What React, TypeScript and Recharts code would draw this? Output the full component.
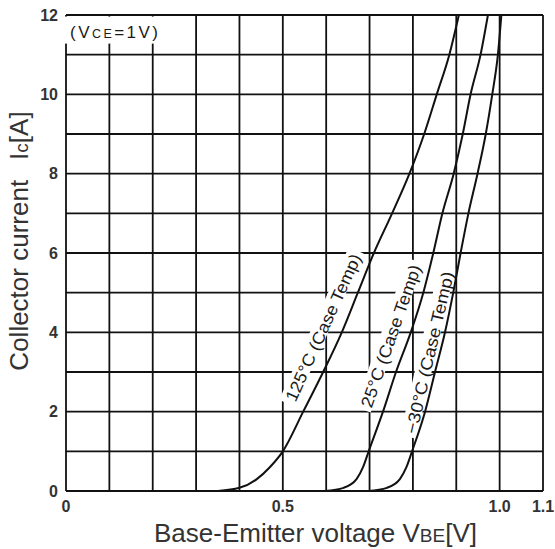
import React from "react";
import {
  LineChart,
  Line,
  XAxis,
  YAxis,
  CartesianGrid,
  ReferenceDot,
} from "recharts";

// Collector current values shared by all three curves [A]
const IC_VALUES = [0, 0.08, 0.3, 0.6, 1, 2, 3, 4, 5, 6, 7, 8, 9, 10, 11, 12];
// Base-emitter voltage [V] read for each temperature
const VBE_125C = [0.35, 0.4, 0.44, 0.47, 0.5, 0.547, 0.593, 0.636, 0.673, 0.71, 0.752, 0.792, 0.826, 0.855, 0.884, 0.906];
const VBE_25C = [0.597, 0.64, 0.67, 0.685, 0.698, 0.731, 0.761, 0.795, 0.824, 0.847, 0.868, 0.894, 0.915, 0.933, 0.956, 0.973];
const VBE_M30C = [0.697, 0.74, 0.77, 0.785, 0.798, 0.828, 0.851, 0.874, 0.893, 0.91, 0.928, 0.949, 0.968, 0.983, 0.996, 1.004];

const X_TICKS = [0, 0.5, 1.0, 1.1];
const X_TICK_LABELS = ["0", "0.5", "1.0", "1.1"];
const Y_TICKS = [0, 2, 4, 6, 8, 10, 12];
const GRID_X = [0, 0.1, 0.2, 0.3, 0.4, 0.5, 0.6, 0.7, 0.8, 0.9, 1.0, 1.1];
const GRID_Y = [0, 1, 2, 3, 4, 5, 6, 7, 8, 9, 10, 11, 12];

const zip = (vs: number[]) => vs.map((v, i) => ({ v, i: IC_VALUES[i] }));
const data125 = zip(VBE_125C);
const data25 = zip(VBE_25C);
const dataM30 = zip(VBE_M30C);

const INK = "#111";
const TEXT = "#1a1a1a";

const curveLabel = (text: string, angle: number, len: number) => (props: any) => {
  const { cx, cy } = props;
  return (
    <g transform={`translate(${cx},${cy}) rotate(${-angle})`}>
      <rect x={-len / 2 - 4} y={-10} width={len + 8} height={16.5} fill="#fff" />
      <text
        x={0}
        y={6}
        textAnchor="middle"
        fontSize={17}
        fill={TEXT}
        textLength={len}
        lengthAdjust="spacingAndGlyphs"
      >
        {text}
      </text>
    </g>
  );
};

const vceLabel = (props: any) => {
  const { cx, cy } = props;
  return (
    <g>
      <rect x={cx - 2} y={cy + 1.6} width={122} height={27} fill="#fff" />
      <text x={cx + 4} y={cy + 23} fontSize={17} fill={TEXT} textLength={88} lengthAdjust="spacing">
        (V<tspan fontSize={12.5}>CE</tspan>=1V)
      </text>
    </g>
  );
};

const XLabel = (props: any) => {
  const vb = props.viewBox || { x: 66, y: 491, width: 477, height: 58 };
  return (
    <text x={vb.x + vb.width / 2 + 11} y={vb.y + 51} textAnchor="middle" fontSize={26} fill="#333">
      Base-Emitter voltage V<tspan fontSize={19}>BE</tspan>[V]
    </text>
  );
};

const YLabel = (props: any) => {
  const vb = props.viewBox || { x: 0, y: 15, width: 66, height: 476 };
  const x = vb.x + 28;
  const y = vb.y + vb.height / 2 - 12;
  return (
    <text x={x} y={y} textAnchor="middle" fontSize={26} fill="#333" transform={`rotate(-90, ${x}, ${y})`}>
      Collector current<tspan dx={20}>I</tspan>
      <tspan fontSize={19}>c</tspan>[A]
    </text>
  );
};

export default function App() {
  return (
    <div
      style={{
        position: "absolute",
        left: 0,
        top: 0,
        width: 555,
        height: 549,
        background: "#fff",
        fontFamily: "'Liberation Sans', Arial, sans-serif",
      }}
    >
      <LineChart width={555} height={549} margin={{ top: 15, right: 12, left: 0, bottom: 0 }}>
        <CartesianGrid
          stroke={INK}
          strokeWidth={1.8}
          horizontalValues={GRID_Y}
          verticalValues={GRID_X}
        />
        <XAxis
          type="number"
          dataKey="v"
          domain={[0, 1.1]}
          ticks={X_TICKS}
          interval={0}
          tickFormatter={(v: number) => X_TICK_LABELS[X_TICKS.indexOf(v)] ?? String(v)}
          axisLine={false}
          tickLine={false}
          tickMargin={4}
          height={58}
          allowDataOverflow
          tick={{ fontSize: 16, fontWeight: 700, fill: "#333" }}
          label={{ content: XLabel }}
        />
        <YAxis
          type="number"
          dataKey="i"
          domain={[0, 12]}
          ticks={Y_TICKS}
          interval={0}
          axisLine={false}
          tickLine={false}
          width={66}
          allowDataOverflow
          tick={{ fontSize: 16, fontWeight: 700, fill: "#333" }}
          label={{ content: YLabel }}
        />
        <ReferenceDot x={0} y={12} r={0} zIndex={-50} shape={vceLabel} />
        <ReferenceDot x={0.593} y={4.12} r={0} zIndex={-50} shape={curveLabel("125°C (Case Temp)", 65.5, 160)} />
        <ReferenceDot x={0.749} y={3.91} r={0} zIndex={-50} shape={curveLabel("25°C (Case Temp)", 70.6, 150)} />
        <ReferenceDot x={0.838} y={3.49} r={0} zIndex={-50} shape={curveLabel("−30°C (Case Temp)", 77, 166)} />
        <Line data={data125} dataKey="i" type="monotone" stroke={INK} strokeWidth={2} dot={false} activeDot={false} isAnimationActive={false} />
        <Line data={data25} dataKey="i" type="monotone" stroke={INK} strokeWidth={2} dot={false} activeDot={false} isAnimationActive={false} />
        <Line data={dataM30} dataKey="i" type="monotone" stroke={INK} strokeWidth={2} dot={false} activeDot={false} isAnimationActive={false} />
      </LineChart>
    </div>
  );
}
